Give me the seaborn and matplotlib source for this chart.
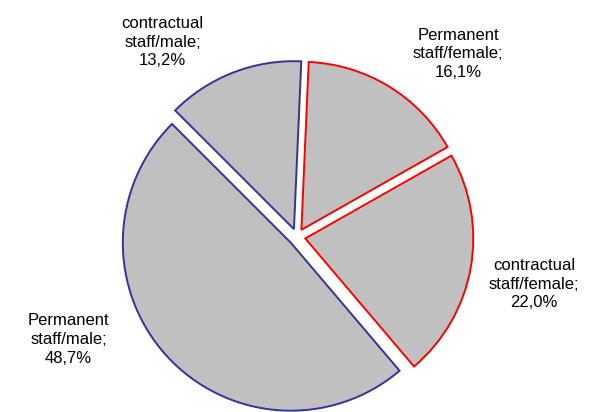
import matplotlib
matplotlib.use('Agg')
import matplotlib.pyplot as plt
import seaborn as sns

# data
categories = ['Permanent\nstaff/female', 'contractual\nstaff/female',
              'Permanent\nstaff/male', 'contractual\nstaff/male']
shares = [16.1, 22.0, 48.7, 13.2]
edge_colors = ['#ff0000', '#ff0000', '#333399', '#333399']

# label positions (data units, radius = 1)
label_pos = [(0.96, 1.09), (1.41, -0.28), (-1.36, -0.61), (-0.80, 1.16)]

sns.set_theme(style='white')
plt.rcParams['font.family'] = ['Liberation Sans', 'DejaVu Sans']

fig = plt.figure(figsize=(5.96, 4.12), dpi=100)
ax = fig.add_axes([0, 0, 1, 1])

wedges, _ = ax.pie(shares, startangle=87.5, counterclock=False,
                   explode=[0.05] * 4, radius=1.0,
                   colors=['#c0c0c0'] * 4,
                   wedgeprops=dict(linewidth=1.4))
for w, ec in zip(wedges, edge_colors):
    w.set_edgecolor(ec)

for cat, val, (x, y) in zip(categories, shares, label_pos):
    txt = f'{cat};\n{val:.1f}%'.replace('.', ',')
    ax.text(x, y, txt, ha='center', va='center', fontsize=12,
            color='black', linespacing=1.32)

R = 168.0
ax.set_xlim(-297 / R, 299 / R)
ax.set_ylim(-(412 - 237) / R, 237 / R)
ax.set_aspect('equal')
ax.axis('off')

fig.savefig('out.png', dpi=100, facecolor='white')
